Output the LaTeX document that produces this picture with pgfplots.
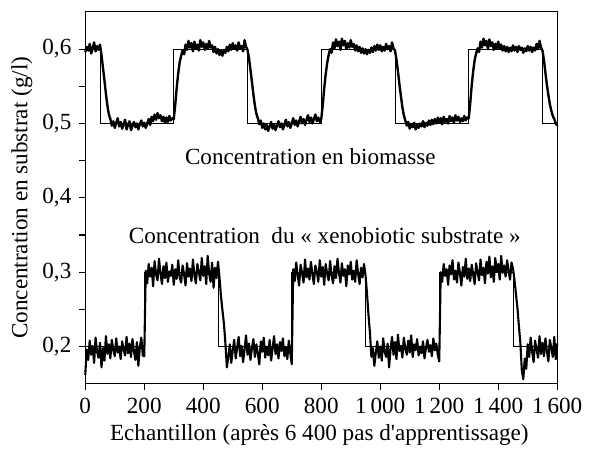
\documentclass[border=0pt]{standalone}
\usepackage{fontspec}
\setmainfont{Liberation Serif}
\usepackage{pgfplots}
\pgfplotsset{compat=1.18}

\begin{document}
\begin{tikzpicture}
\fontsize{17.5}{20}\selectfont
\begin{axis}[
    scale only axis,
    width=357pt, height=281.25pt,
    xmin=0, xmax=1600, ymin=0.15, ymax=0.65,
    axis lines*=left,
    axis line style={line width=1.1pt, -},
    tick align=outside,
    major tick length=4.5pt, minor tick length=4.5pt,
    tick style={line width=0.8pt, black},
    xtick={0,200,...,1600},
    ytick={0.2,0.3,0.4,0.5,0.6},
    minor y tick num=1,
    /pgf/number format/assume math mode=true,
    xticklabel style={/pgf/number format/.cd, 1000 sep={\,}},
    yticklabel style={/pgf/number format/.cd, fixed, precision=1, use comma},
    every axis x label/.style={at={(axis description cs:0.496,-0.138)}, anchor=center},
    every axis y label/.style={at={(axis description cs:-0.1345,0.5)}, rotate=90, anchor=center},
    xlabel={Echantillon (après 6 400 pas d\textquotesingle apprentissage)},
    ylabel={Concentration en substrat (g/l)},
    clip=false,
]
% consignes
\addplot[const plot, black, line width=0.6pt] coordinates {
(0,0.6) (50,0.5) (300,0.6) (550,0.5) (800,0.6) (1050,0.5) (1300,0.6) (1550,0.5) (1600,0.5)};
\addplot[const plot, black, line width=0.6pt] coordinates {
(0,0.2) (200,0.3) (450,0.2) (700,0.3) (950,0.2) (1200,0.3) (1450,0.2) (1600,0.2)};

% biomasse mesuree
\addplot[black, line width=1.8pt, line join=round] coordinates {
(0,0.596) (5,0.603) (10,0.598) (15,0.607) (20,0.594) (25,0.601) (30,0.609) (35,0.597) (40,0.604) (45,0.599)
(50,0.606) (55,0.592) (60,0.575) (65,0.558) (70,0.540) (75,0.524) (80,0.512) (85,0.506) (90,0.497) (95,0.503)
(100,0.494) (105,0.501) (110,0.507) (115,0.496) (120,0.502) (125,0.493) (130,0.499) (135,0.505) (140,0.492) (145,0.498)
(150,0.503) (155,0.491) (160,0.497) (165,0.502) (170,0.495) (175,0.500) (180,0.492) (185,0.499) (190,0.504) (195,0.496)
(200,0.501) (205,0.494) (210,0.500) (215,0.506) (220,0.498) (225,0.509) (230,0.503) (235,0.512) (240,0.505) (245,0.514)
(250,0.507) (255,0.511) (260,0.503) (265,0.509) (270,0.501) (275,0.508) (280,0.502) (285,0.510) (290,0.504) (295,0.507)
(300,0.506) (305,0.525) (310,0.548) (315,0.567) (320,0.582) (325,0.591) (330,0.598) (335,0.593) (340,0.606) (345,0.599)
(350,0.611) (355,0.602) (360,0.608) (365,0.597) (370,0.610) (375,0.601) (380,0.606) (385,0.598) (390,0.612) (395,0.603)
(400,0.609) (405,0.599) (410,0.607) (415,0.600) (420,0.611) (425,0.602) (430,0.605) (435,0.596) (440,0.603) (445,0.594)
(450,0.600) (455,0.592) (460,0.598) (465,0.591) (470,0.599) (475,0.595) (480,0.603) (485,0.597) (490,0.606) (495,0.599)
(500,0.608) (505,0.600) (510,0.605) (515,0.598) (520,0.609) (525,0.601) (530,0.604) (535,0.597) (540,0.612) (545,0.603)
(550,0.599) (555,0.588) (560,0.572) (565,0.556) (570,0.539) (575,0.524) (580,0.513) (585,0.507) (590,0.499) (595,0.504)
(600,0.494) (605,0.500) (610,0.492) (615,0.498) (620,0.490) (625,0.496) (630,0.502) (635,0.493) (640,0.499) (645,0.491)
(650,0.497) (655,0.503) (660,0.495) (665,0.500) (670,0.492) (675,0.498) (680,0.505) (685,0.496) (690,0.502) (695,0.494)
(700,0.500) (705,0.507) (710,0.498) (715,0.504) (720,0.496) (725,0.503) (730,0.509) (735,0.500) (740,0.506) (745,0.498)
(750,0.505) (755,0.511) (760,0.502) (765,0.508) (770,0.500) (775,0.506) (780,0.512) (785,0.503) (790,0.508) (795,0.502)
(800,0.506) (805,0.524) (810,0.547) (815,0.566) (820,0.581) (825,0.592) (830,0.600) (835,0.595) (840,0.609) (845,0.601)
(850,0.613) (855,0.604) (860,0.610) (865,0.599) (870,0.614) (875,0.605) (880,0.611) (885,0.600) (890,0.608) (895,0.602)
(900,0.612) (905,0.603) (910,0.607) (915,0.598) (920,0.605) (925,0.597) (930,0.603) (935,0.595) (940,0.601) (945,0.594)
(950,0.600) (955,0.593) (960,0.599) (965,0.595) (970,0.602) (975,0.596) (980,0.604) (985,0.598) (990,0.606) (995,0.599)
(1000,0.605) (1005,0.597) (1010,0.603) (1015,0.598) (1020,0.607) (1025,0.600) (1030,0.604) (1035,0.597) (1040,0.609) (1045,0.601)
(1050,0.598) (1055,0.586) (1060,0.570) (1065,0.553) (1070,0.537) (1075,0.522) (1080,0.511) (1085,0.504) (1090,0.497) (1095,0.502)
(1100,0.493) (1105,0.499) (1110,0.495) (1115,0.501) (1120,0.492) (1125,0.498) (1130,0.494) (1135,0.500) (1140,0.496) (1145,0.503)
(1150,0.495) (1155,0.501) (1160,0.497) (1165,0.504) (1170,0.498) (1175,0.505) (1180,0.499) (1185,0.506) (1190,0.500) (1195,0.508)
(1200,0.501) (1205,0.507) (1210,0.499) (1215,0.509) (1220,0.502) (1225,0.506) (1230,0.500) (1235,0.510) (1240,0.503) (1245,0.508)
(1250,0.501) (1255,0.511) (1260,0.504) (1265,0.509) (1270,0.502) (1275,0.507) (1280,0.503) (1285,0.510) (1290,0.504) (1295,0.508)
(1300,0.507) (1305,0.527) (1310,0.551) (1315,0.570) (1320,0.585) (1325,0.594) (1330,0.601) (1335,0.596) (1340,0.610) (1345,0.602)
(1350,0.614) (1355,0.605) (1360,0.611) (1365,0.600) (1370,0.613) (1375,0.604) (1380,0.609) (1385,0.599) (1390,0.607) (1395,0.601)
(1400,0.610) (1405,0.600) (1410,0.606) (1415,0.598) (1420,0.604) (1425,0.597) (1430,0.603) (1435,0.596) (1440,0.602) (1445,0.597)
(1450,0.605) (1455,0.598) (1460,0.603) (1465,0.596) (1470,0.604) (1475,0.599) (1480,0.602) (1485,0.595) (1490,0.601) (1495,0.597)
(1500,0.604) (1505,0.598) (1510,0.603) (1515,0.596) (1520,0.602) (1525,0.598) (1530,0.607) (1535,0.600) (1540,0.611) (1545,0.602)
(1550,0.598) (1555,0.585) (1560,0.568) (1565,0.552) (1570,0.538) (1575,0.526) (1580,0.517) (1585,0.510) (1590,0.506) (1595,0.500)
(1600,0.497)};

% substrat mesure
\addplot[black, line width=1.6pt, line join=round] coordinates {
(0,0.162) (5,0.196) (10,0.182) (15,0.208) (20,0.189) (25,0.201) (30,0.178) (35,0.212) (40,0.193) (45,0.185)
(50,0.205) (55,0.172) (60,0.198) (65,0.181) (70,0.214) (75,0.190) (80,0.203) (85,0.184) (90,0.209) (95,0.195)
(100,0.187) (105,0.211) (110,0.192) (115,0.200) (120,0.183) (125,0.207) (130,0.196) (135,0.188) (140,0.213) (145,0.191)
(150,0.204) (155,0.186) (160,0.210) (165,0.194) (170,0.182) (175,0.206) (180,0.174) (185,0.199) (190,0.212) (195,0.188)
(200,0.187) (205,0.302) (210,0.285) (215,0.311) (220,0.294) (225,0.306) (230,0.281) (235,0.315) (240,0.297) (245,0.289)
(250,0.318) (255,0.299) (260,0.284) (265,0.308) (270,0.292) (275,0.313) (280,0.287) (285,0.301) (290,0.295) (295,0.310)
(300,0.283) (305,0.304) (310,0.291) (315,0.316) (320,0.293) (325,0.286) (330,0.309) (335,0.297) (340,0.282) (345,0.312)
(350,0.294) (355,0.305) (360,0.288) (365,0.317) (370,0.296) (375,0.285) (380,0.311) (385,0.300) (390,0.289) (395,0.319)
(400,0.295) (405,0.308) (410,0.284) (415,0.322) (420,0.298) (425,0.287) (430,0.313) (435,0.279) (440,0.306) (445,0.292)
(450,0.314) (455,0.293) (460,0.268) (465,0.249) (470,0.231) (475,0.205) (480,0.172) (485,0.186) (490,0.203) (495,0.178)
(500,0.195) (505,0.209) (510,0.184) (515,0.199) (520,0.213) (525,0.187) (530,0.201) (535,0.179) (540,0.196) (545,0.215)
(550,0.189) (555,0.204) (560,0.182) (565,0.198) (570,0.210) (575,0.186) (580,0.203) (585,0.191) (590,0.176) (595,0.207)
(600,0.193) (605,0.212) (610,0.185) (615,0.200) (620,0.188) (625,0.209) (630,0.181) (635,0.197) (640,0.214) (645,0.190)
(650,0.203) (655,0.184) (660,0.206) (665,0.194) (670,0.211) (675,0.187) (680,0.199) (685,0.183) (690,0.208) (695,0.192)
(700,0.176) (705,0.304) (710,0.288) (715,0.313) (720,0.296) (725,0.282) (730,0.310) (735,0.299) (740,0.286) (745,0.317)
(750,0.293) (755,0.305) (760,0.290) (765,0.314) (770,0.297) (775,0.284) (780,0.309) (785,0.301) (790,0.287) (795,0.316)
(800,0.294) (805,0.307) (810,0.283) (815,0.311) (820,0.298) (825,0.289) (830,0.315) (835,0.296) (840,0.285) (845,0.308)
(850,0.292) (855,0.318) (860,0.299) (865,0.286) (870,0.312) (875,0.295) (880,0.304) (885,0.281) (890,0.309) (895,0.297)
(900,0.314) (905,0.290) (910,0.302) (915,0.287) (920,0.316) (925,0.298) (930,0.284) (935,0.306) (940,0.293) (945,0.311)
(950,0.296) (955,0.272) (960,0.243) (965,0.219) (970,0.186) (975,0.198) (980,0.174) (985,0.192) (990,0.207) (995,0.185)
(1000,0.200) (1005,0.181) (1010,0.211) (1015,0.193) (1020,0.186) (1025,0.204) (1030,0.172) (1035,0.197) (1040,0.213) (1045,0.189)
(1050,0.206) (1055,0.183) (1060,0.216) (1065,0.194) (1070,0.201) (1075,0.185) (1080,0.212) (1085,0.197) (1090,0.189) (1095,0.208)
(1100,0.192) (1105,0.215) (1110,0.186) (1115,0.203) (1120,0.195) (1125,0.210) (1130,0.188) (1135,0.200) (1140,0.191) (1145,0.207)
(1150,0.184) (1155,0.198) (1160,0.209) (1165,0.193) (1170,0.202) (1175,0.187) (1180,0.211) (1185,0.195) (1190,0.204) (1195,0.189)
(1200,0.180) (1205,0.300) (1210,0.287) (1215,0.311) (1220,0.295) (1225,0.304) (1230,0.283) (1235,0.309) (1240,0.297) (1245,0.316)
(1250,0.290) (1255,0.302) (1260,0.286) (1265,0.313) (1270,0.299) (1275,0.282) (1280,0.307) (1285,0.294) (1290,0.318) (1295,0.291)
(1300,0.305) (1305,0.288) (1310,0.310) (1315,0.297) (1320,0.284) (1325,0.312) (1330,0.300) (1335,0.289) (1340,0.317) (1345,0.296)
(1350,0.306) (1355,0.285) (1360,0.314) (1365,0.298) (1370,0.321) (1375,0.293) (1380,0.308) (1385,0.287) (1390,0.319) (1395,0.301)
(1400,0.311) (1405,0.290) (1410,0.322) (1415,0.299) (1420,0.309) (1425,0.294) (1430,0.316) (1435,0.302) (1440,0.290) (1445,0.313)
(1450,0.305) (1455,0.290) (1460,0.271) (1465,0.252) (1470,0.228) (1475,0.205) (1480,0.168) (1485,0.156) (1490,0.184) (1495,0.170)
(1500,0.203) (1505,0.186) (1510,0.212) (1515,0.193) (1520,0.179) (1525,0.208) (1530,0.196) (1535,0.185) (1540,0.214) (1545,0.190)
(1550,0.205) (1555,0.187) (1560,0.211) (1565,0.194) (1570,0.180) (1575,0.209) (1580,0.198) (1585,0.186) (1590,0.213) (1595,0.183)
(1600,0.204)};

\node at (axis cs:763,0.456) {Concentration en biomasse};
\node at (axis cs:812,0.349) {Concentration\ \ du «~xenobiotic substrate~»};
\draw[line width=0.7pt] (rel axis cs:0,1) -- (rel axis cs:1,1) -- (rel axis cs:1,0);
\end{axis}
\path[use as bounding box] (-64.5pt,-48.75pt) rectangle (378pt,290.25pt);
\end{tikzpicture}
\end{document}
